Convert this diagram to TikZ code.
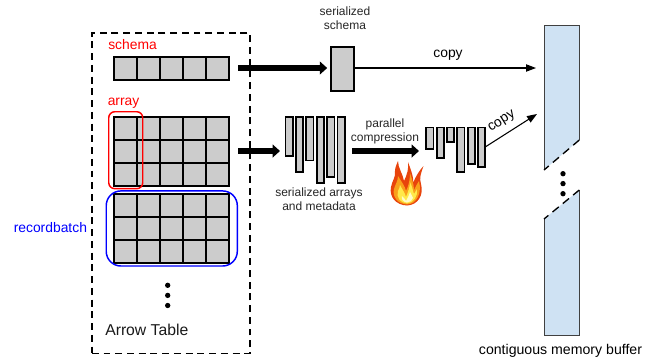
\documentclass[tikz,border=0pt]{standalone}
\usepackage{fontspec}
\setmainfont{Liberation Sans}
\usetikzlibrary{arrows.meta}
\definecolor{cellgray}{HTML}{CCCCCC}
\definecolor{bufblue}{HTML}{CFE2F3}
\definecolor{flameA}{HTML}{E8440C}
\definecolor{flameB}{HTML}{F9A01B}
\definecolor{flameC}{HTML}{FFE94A}
\definecolor{flameD}{HTML}{FFFBC8}
\tikzset{
  cellbox/.style={draw=black,fill=cellgray,line width=1.5pt,minimum width=17.25pt,minimum height=17.25pt,inner sep=0pt,anchor=north west,outer sep=0pt},
  barbox/.style={draw=black,fill=cellgray,line width=1.3pt,inner sep=0pt,outer sep=0pt,anchor=north west},
  fatarrow/.style={line width=4.2pt,-{Triangle[length=5.5pt,width=9.5pt]}},
  thinarrow/.style={line width=.8pt,-{Triangle[length=7.5pt,width=5.5pt]}},
  lab/.style={inner sep=0pt,font=\fontsize{9pt}{10.8pt}\selectfont,align=center,text=black!85},
  biglab/.style={inner sep=0pt,font=\fontsize{10.4pt}{12pt}\selectfont},
  dotmark/.style={circle,fill=black,inner sep=0pt,minimum size=4pt},
}
\begin{document}
\begin{tikzpicture}[x=.75pt,y=-.75pt]
\useasboundingbox (0,0) rectangle (654,358);
% table frame
\node[draw=black,line width=1.2pt,dash pattern=on 5.2pt off 3.6pt,inner sep=0pt,minimum width=118.5pt,minimum height=240.5pt,anchor=north west] (table) at (91,32) {};
% schema row
\foreach \c in {0,...,4} \node[cellbox] (s\c) at ({113.7+23*\c},56.6) {};
% array grid
\foreach \r in {0,1,2} \foreach \c in {0,...,4} \node[cellbox] (a\r\c) at ({113.7+23*\c},{116.6+23*\r}) {};
% recordbatch grid
\foreach \r in {0,1,2} \foreach \c in {0,...,4} \node[cellbox] (b\r\c) at ({113.7+23*\c},{193.6+23*\r}) {};
% highlights
\node[draw=red,line width=1.1pt,rounded corners=4.5pt,inner sep=0pt,minimum width=25.5pt,minimum height=57.7pt,anchor=north west] (arrbox) at (108,111) {};
\node[draw=blue,line width=1.1pt,rounded corners=11pt,inner sep=0pt,minimum width=98.3pt,minimum height=56.3pt,anchor=north west] (rbbox) at (105.5,190.2) {};
% labels left
\node[biglab,text=red,anchor=base west] (schemalab) at (108,49.5) {schema};
\node[biglab,text=red,anchor=base west] (arraylab) at (107.5,105) {array};
\node[biglab,text=blue,anchor=base west] (rblab) at (13.5,232.5) {recordbatch};
\node[biglab,anchor=base west,font=\fontsize{11.8pt}{13pt}\selectfont,text=black!90] (tablelab) at (105,335) {Arrow Table};
% dots left
\node[dotmark] (d1) at (167.7,285.3) {};
\node[dotmark] (d2) at (167.7,295.4) {};
\node[dotmark] (d3) at (167.7,305.5) {};
% serialized schema
\node[barbox,minimum width=17pt,minimum height=33pt] (ser) at (331.2,46.7) {};
\node[lab,anchor=south] (serlab) at (345,30) {serialized\\schema};
% serialized bars
\node[barbox,minimum width=5.4pt,minimum height=29.2pt] (u1) at (285.5,117) {};
\node[barbox,minimum width=5.4pt,minimum height=41.2pt] (u2) at (295.8,117) {};
\node[barbox,minimum width=5.4pt,minimum height=32.7pt] (u3) at (306.2,117) {};
\node[barbox,minimum width=5.4pt,minimum height=49.5pt] (u4) at (316.8,117) {};
\node[barbox,minimum width=5.4pt,minimum height=45pt] (u5) at (327.2,117) {};
\node[barbox,minimum width=5.4pt,minimum height=49.5pt] (u6) at (337.5,117) {};
\node[lab,anchor=north] (ulab) at (319,187.5) {serialized arrays\\and metadata};
% compressed bars
\node[barbox,minimum width=5.4pt,minimum height=16pt] (c1) at (426.2,127.5) {};
\node[barbox,minimum width=5.4pt,minimum height=23pt] (c2) at (436.7,127.5) {};
\node[barbox,minimum width=5.4pt,minimum height=11pt] (c3) at (447,127.5) {};
\node[barbox,minimum width=5.4pt,minimum height=33.5pt] (c4) at (457.3,127.5) {};
\node[barbox,minimum width=5.4pt,minimum height=27.5pt] (c5) at (467.7,127.5) {};
\node[barbox,minimum width=5.4pt,minimum height=29.5pt] (c6) at (478,127.5) {};
\node[lab,anchor=south] (plab) at (385,144.5) {parallel\\compression};
% buffer
\fill[bufblue] (544,25.3) -- (579.3,25.3) -- (579.3,140) -- (544,170) -- cycle;
\fill[bufblue] (544,219) -- (579.3,190) -- (579.3,335.3) -- (544,335.3) -- cycle;
\draw[line width=.7pt,black!75] (544,170) -- (544,25.3) -- (579.3,25.3) -- (579.3,140);
\draw[line width=.7pt,black!75] (544,219) -- (544,335.3) -- (579.3,335.3) -- (579.3,190);
\draw[line width=1pt,dash pattern=on 6pt off 4pt] (579.3,140) -- (544,170);
\draw[line width=1pt,dash pattern=on 6pt off 4pt] (579.3,190) -- (544,219);
\node[dotmark] (e1) at (563,173.7) {};
\node[dotmark] (e2) at (563,183.6) {};
\node[dotmark] (e3) at (563,193.7) {};
\node[lab,anchor=base,font=\fontsize{10.6pt}{12pt}\selectfont,text=black] (buflab) at (560.5,354) {contiguous memory buffer};
% connectors
\coordinate (f1s) at (238,68);
\coordinate (f2s) at (238,151);
\coordinate (f2e) at (280,151);
\coordinate (f3s) at (352,151);
\coordinate (f3e) at (419,151);
\coordinate (t1e) at (536,68);
\coordinate (t2s) at (485.5,146.8);
\coordinate (t2e) at (537,114);
\draw[fatarrow,shorten >=3pt] (f1s) -- (ser.west |- f1s);
\draw[fatarrow] (f2s) -- (f2e);
\draw[fatarrow] (f3s) -- (f3e);
\draw[thinarrow] (ser.east |- t1e) -- (t1e);
\draw[thinarrow] (t2s) -- (t2e);
\node[lab,font=\fontsize{10.4pt}{12pt}\selectfont,text=black] (copy1) at (448,55) {copy};
\node[lab,font=\fontsize{10.4pt}{12pt}\selectfont,text=black,rotate=32] (copy2) at (502,122) {copy};
% flame
\fill[flameA] (407,205.5) .. controls (396,205) and (389,197) .. (391,187) .. controls (392,181) and (396,177) .. (395,171) .. controls (395,167) and (397,164) .. (398,161) .. controls (398,168) and (403,174) .. (404,181) .. controls (407,175) and (409,168) .. (408,162) .. controls (411,170) and (414,178) .. (413,183) .. controls (416,176) and (419,171) .. (423.5,166) .. controls (421,173) and (419,178) .. (421,184) .. controls (424,195) and (418,205) .. (407,205.5) -- cycle;
\fill[flameB] (407,204.5) .. controls (398,204) and (392,197) .. (394,189) .. controls (395,185) and (398,181) .. (398,176) .. controls (401,181) and (405,186) .. (406,191) .. controls (409,185) and (410,179) .. (410,173) .. controls (412,179) and (414,185) .. (414,190) .. controls (416,186) and (417,184) .. (419,181) .. controls (422,193) and (417,204) .. (407,204.5) -- cycle;
\fill[flameC] (407,203.5) .. controls (400,203) and (396,197) .. (398,191) .. controls (399,189) and (400,187) .. (400,185) .. controls (402,189) and (405,193) .. (406,197) .. controls (408,192) and (410,187) .. (410,182) .. controls (412,186) and (413,191) .. (414,194) .. controls (415,192) and (416,191) .. (417,189) .. controls (418,196) and (414,203) .. (407,203.5) -- cycle;
\fill[flameD] (407,202.5) .. controls (403,202) and (401,199) .. (402,196) .. controls (404,198) and (405,199) .. (406,201) .. controls (408,198) and (409,195) .. (410,192) .. controls (411,195) and (413,197) .. (413,198) .. controls (412,201) and (410,202) .. (407,202.5) -- cycle;
\end{tikzpicture}
\end{document}
